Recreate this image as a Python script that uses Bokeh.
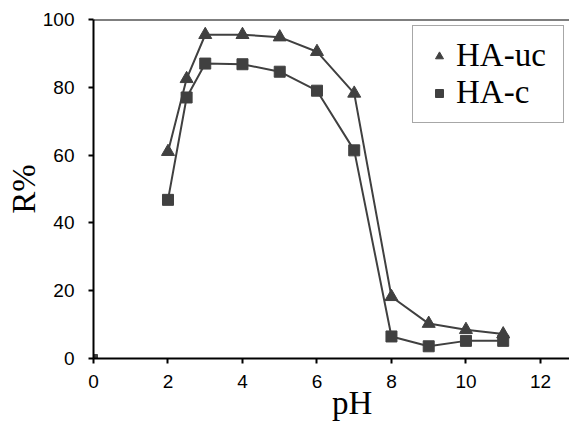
from bokeh.plotting import figure
from bokeh.models import Legend, LegendItem, Span, FixedTicker, Range1d
from bokeh.embed import file_html
from bokeh.resources import INLINE

ph = [2, 2.5, 3, 4, 5, 6, 7, 8, 9, 10, 11]
ha_uc = [61, 82.5, 95.5, 95.5, 94.8, 90.5, 78.2, 18.2, 10.3, 8.5, 7.2]
ha_c = [46.8, 77, 87, 86.8, 84.6, 79, 61.4, 6.5, 3.6, 5.2, 5.2]
x_ticks = [0, 2, 4, 6, 8, 10, 12]
y_ticks = [0, 20, 40, 60, 80, 100]

col = "#404040"
p = figure(width=569, height=426, output_backend="svg", toolbar_location=None,
           x_range=Range1d(0, 12.78), y_range=Range1d(0, 100),
           min_border_left=93, min_border_top=19, min_border_right=0, min_border_bottom=68)
p.outline_line_color = None
p.grid.visible = False
p.background_fill_color = "white"

for ax, ticks in ((p.xaxis, x_ticks), (p.yaxis, y_ticks)):
    ax.ticker = FixedTicker(ticks=ticks)
    ax.minor_tick_line_color = None
    ax.major_tick_in = 0
    ax.major_tick_out = 5
    ax.axis_line_width = 2
    ax.major_tick_line_width = 2
    ax.major_label_text_font = "Liberation Sans"
    ax.major_label_text_font_size = "19px"
    ax.major_label_text_color = "black"
    ax.axis_label_text_font = "Liberation Serif"
    ax.axis_label_text_font_style = "normal"
    ax.axis_label_text_font_size = "33px"
    ax.axis_label_text_color = "black"
p.xaxis.major_label_standoff = 11
p.yaxis.major_label_standoff = 14
p.xaxis.axis_label = "\u00a0\u00a0\u00a0\u00a0\u00a0pH"
p.yaxis.axis_label = "R%"
p.xaxis.axis_label_standoff = -6
p.yaxis.axis_label_standoff = -2

p.add_layout(Span(location=100, dimension="width", line_color="black", line_width=2))

p.line(ph, ha_uc, line_color=col, line_width=2)
p.scatter(ph, ha_uc, marker="triangle", size=13, fill_color=col, line_color=col)
p.line(ph, ha_c, line_color=col, line_width=2)
p.scatter(ph, ha_c, marker="square", size=11, fill_color=col, line_color=col)

leg_uc = p.scatter([None], [None], marker="triangle", size=8, fill_color=col, line_color=col)
leg_c = p.scatter([None], [None], marker="square", size=8, fill_color=col, line_color=col)

legend = Legend(items=[LegendItem(label="HA-uc", renderers=[leg_uc]),
                       LegendItem(label="HA-c", renderers=[leg_c])],
                location=(319, 235))
legend.label_text_font = "Liberation Serif"
legend.label_text_font_size = "33px"
legend.label_text_color = "black"
legend.border_line_color = "#505050"
legend.border_line_width = 1
legend.padding = 11
legend.spacing = -4
legend.glyph_width = 30
legend.label_standoff = 2
legend.label_width = 96
legend.margin = 0
p.add_layout(legend)

open("out.html", "w").write(file_html(p, INLINE))
